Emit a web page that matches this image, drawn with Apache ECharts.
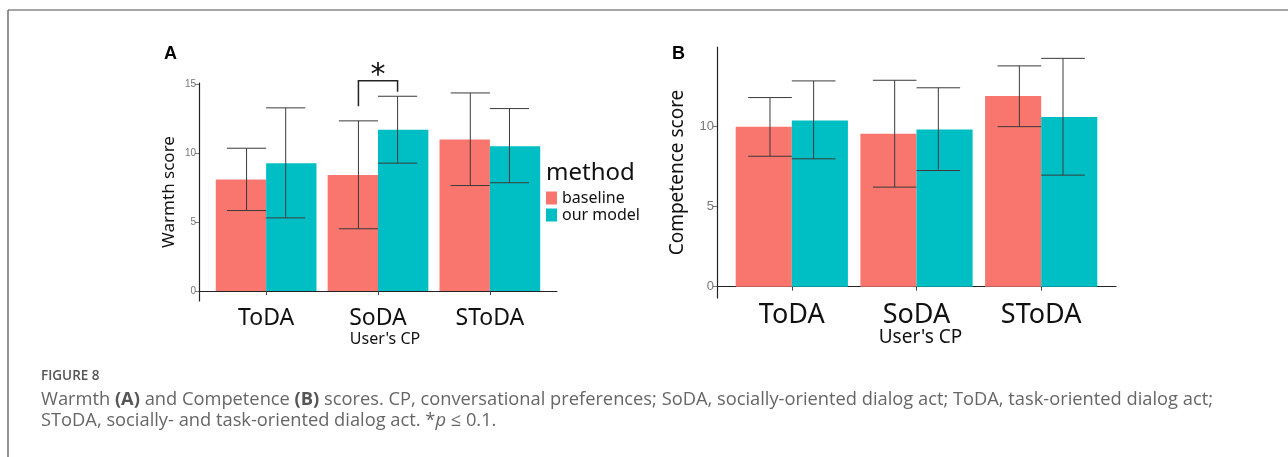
<!DOCTYPE html>
<html>
<head>
<meta charset="utf-8">
<script src="https://cdn.jsdelivr.net/npm/echarts@6/dist/echarts.min.js"></script>
<style>
  html, body { margin: 0; padding: 0; background: #fff; }
  #figure { width: 1288px; height: 457px; }
</style>
</head>
<body>
<div id="figure"></div>
<script>
// categories on the x axis
const categories = ['ToDA', 'SoDA', 'SToDA'];
const subLabel = "User's CP"; // printed under SoDA

// panel A - warmth (mean, lower and upper error bar)
const warmthBaseline = [8.08, 8.41, 10.97];
const warmthBaselineLow = [5.83, 4.51, 7.64];
const warmthBaselineHigh = [10.34, 12.32, 14.34];
const warmthOurs = [9.26, 11.67, 10.48];
const warmthOursLow = [5.30, 9.26, 7.84];
const warmthOursHigh = [13.26, 14.10, 13.21];

// panel B - competence
const competenceBaseline = [10.00, 9.55, 11.91];
const competenceBaselineLow = [8.15, 6.22, 10.00];
const competenceBaselineHigh = [11.82, 12.90, 13.80];
const competenceOurs = [10.39, 9.83, 10.60];
const competenceOursLow = [7.99, 7.26, 6.97];
const competenceOursHigh = [12.86, 12.43, 14.27];

const warmthTicks = [0, 5, 10, 15];
const competenceTicks = [0, 5, 10];

// significance bracket over SoDA in panel A: left end, top, right end
const sigBracket = [13.38, 15.23, 14.42];
const sigLabel = '*';

const methods = ['baseline', 'our model'];
const colors = ['#F8766D', '#00BFC4'];

const font = 'Noto Sans';
const barHalf = 0.225;   // dodge width 0.9 -> each bar 0.45
const errOffset = 0.175; // error bars dodged by 0.7
const capHalf = 0.175;

function barRender(offset) {
    return function (params, api) {
        const x = api.value(0) + 1 + offset;
        const p0 = api.coord([x - barHalf, api.value(1)]);
        const p1 = api.coord([x + barHalf, 0]);
        return {
            type: 'rect',
            shape: { x: p0[0], y: p0[1], width: p1[0] - p0[0], height: p1[1] - p0[1] },
            style: { fill: api.visual('color') }
        };
    };
}

function errRender(offset) {
    return function (params, api) {
        const x = api.value(0) + 1 + offset;
        const lo = api.coord([x, api.value(1)]);
        const hi = api.coord([x, api.value(2)]);
        const l = api.coord([x - capHalf, api.value(1)])[0];
        const r = api.coord([x + capHalf, api.value(1)])[0];
        const st = { stroke: '#3a3a3a', lineWidth: 1 };
        return {
            type: 'group',
            children: [
                { type: 'line', shape: { x1: lo[0], y1: lo[1], x2: hi[0], y2: hi[1] }, style: st },
                { type: 'line', shape: { x1: l, y1: lo[1], x2: r, y2: lo[1] }, style: st },
                { type: 'line', shape: { x1: l, y1: hi[1], x2: r, y2: hi[1] }, style: st }
            ]
        };
    };
}

function barSeries(name, color, values, gi, offset) {
    return {
        name: name,
        type: 'custom',
        xAxisIndex: gi,
        yAxisIndex: gi,
        itemStyle: { color: color },
        renderItem: barRender(offset),
        data: values.map((v, i) => [i, v])
    };
}

function errSeries(low, high, gi, offset) {
    return {
        name: 'err',
        type: 'custom',
        xAxisIndex: gi,
        yAxisIndex: gi,
        z: 3,
        renderItem: errRender(offset),
        data: low.map((v, i) => [i, v, high[i]])
    };
}

function xAxis(gi, big, subPad) {
    return {
        type: 'value',
        gridIndex: gi,
        min: 0.4,
        max: 3.6,
        splitLine: { show: false },
        axisLine: { lineStyle: { color: '#222', width: 1.2 } },
        axisTick: { customValues: [1, 2, 3], length: 4, lineStyle: { color: '#444' } },
        axisLabel: {
            customValues: [1, 2, 3],
            margin: big ? 2 : 4,
            formatter: function (v) {
                const c = categories[Math.round(v) - 1];
                return c === 'SoDA' ? '{a|' + c + '}\n{b|' + subLabel + '}' : '{a|' + c + '}';
            },
            rich: {
                a: { fontFamily: font, fontSize: big ? 27 : 23, lineHeight: big ? 30 : 26, color: '#111' },
                b: { fontFamily: font, fontSize: big ? 19 : 16, lineHeight: big ? 16 : 17, color: '#111', padding: [0, 0, 0, subPad] }
            }
        }
    };
}

function yAxis(gi, min, max, ticks, name, nameSize, nameGap, labelSize) {
    return {
        type: 'value',
        gridIndex: gi,
        min: min,
        max: max,
        name: name,
        nameLocation: 'middle',
        nameGap: nameGap,
        nameTextStyle: { fontFamily: font, fontSize: nameSize, color: '#111' },
        splitLine: { show: false },
        axisLine: { show: true, lineStyle: { color: '#222', width: 1.2 } },
        axisTick: { show: true, customValues: ticks, length: 4, lineStyle: { color: '#777' } },
        axisLabel: { customValues: ticks, margin: 3, fontFamily: 'Liberation Sans', fontSize: labelSize, color: '#777' }
    };
}

const chart = echarts.init(document.getElementById('figure'));

const option = {
    backgroundColor: '#fff',
    animation: false,
    grid: [
        { left: 199, top: 83, width: 358, height: 218 },
        { left: 717, top: 47, width: 399, height: 251 }
    ],
    xAxis: [xAxis(0, false, 14), xAxis(1, true, 8)],
    yAxis: [
        yAxis(0, -0.717, 15.06, warmthTicks, 'Warmth score', 17, 21, 10),
        yAxis(1, -0.71, 14.98, competenceTicks, 'Competence score', 19, 30, 13)
    ],
    legend: {
        data: methods,
        orient: 'vertical',
        left: 546,
        top: 190,
        icon: 'rect',
        itemWidth: 11,
        itemHeight: 13,
        itemGap: 1,
        padding: 0,
        textStyle: { fontFamily: font, fontSize: 16, color: '#111', lineHeight: 13 }
    },
    title: [
        { text: 'A', left: 164, top: 45, padding: 0, textStyle: { fontFamily: 'Liberation Sans', fontSize: 18, fontWeight: 'bold', color: '#000' } },
        { text: 'B', left: 672, top: 45, padding: 0, textStyle: { fontFamily: 'Liberation Sans', fontSize: 18, fontWeight: 'bold', color: '#000' } },
        { text: 'method', left: 546, top: 161, padding: 0, textStyle: { fontFamily: font, fontSize: 24, fontWeight: 'normal', color: '#111' } }
    ],
    graphic: [
        { type: 'line', shape: { x1: 8, y1: 10, x2: 1288, y2: 10 }, style: { stroke: '#4d4d4d', lineWidth: 1.2 } },
        { type: 'line', shape: { x1: 8, y1: 10, x2: 8, y2: 457 }, style: { stroke: '#4d4d4d', lineWidth: 1.2 } },
        {
            type: 'text', left: 41, top: 369,
            style: { text: 'FIGURE 8', fontFamily: 'Open Sans', fontSize: 13.5, fontWeight: 600, fill: '#555' }
        },
        {
            type: 'text', left: 41, top: 391,
            style: {
                text: 'Warmth {b|(A)} and Competence {b|(B)} scores. CP, conversational preferences; SoDA, socially-oriented dialog act; ToDA, task-oriented dialog act;',
                fontFamily: 'Open Sans', fontSize: 18.3, fill: '#666',
                rich: { b: { fontFamily: 'Open Sans', fontSize: 18.3, fontWeight: 'bold', fill: '#555' } }
            }
        },
        {
            type: 'text', left: 41, top: 412,
            style: {
                text: 'SToDA, socially- and task-oriented dialog act. *{i|p} ≤ 0.1.',
                fontFamily: 'Open Sans', fontSize: 18.3, fill: '#666',
                rich: { i: { fontFamily: 'Open Sans', fontSize: 18.3, fontStyle: 'italic', fill: '#666' } }
            }
        }
    ],
    series: [
        barSeries(methods[0], colors[0], warmthBaseline, 0, -barHalf),
        barSeries(methods[1], colors[1], warmthOurs, 0, barHalf),
        errSeries(warmthBaselineLow, warmthBaselineHigh, 0, -errOffset),
        errSeries(warmthOursLow, warmthOursHigh, 0, errOffset),
        barSeries(methods[0], colors[0], competenceBaseline, 1, -barHalf),
        barSeries(methods[1], colors[1], competenceOurs, 1, barHalf),
        errSeries(competenceBaselineLow, competenceBaselineHigh, 1, -errOffset),
        errSeries(competenceOursLow, competenceOursHigh, 1, errOffset),
        {
            name: 'sig',
            type: 'custom',
            xAxisIndex: 0,
            yAxisIndex: 0,
            clip: false,
            z: 4,
            renderItem: function (params, api) {
                const a = api.coord([2 - errOffset, api.value(0)]);
                const t1 = api.coord([2 - errOffset, api.value(1)]);
                const t2 = api.coord([2 + errOffset, api.value(1)]);
                const b = api.coord([2 + errOffset, api.value(2)]);
                const mid = api.coord([2, api.value(1)]);
                return {
                    type: 'group',
                    children: [
                        { type: 'polyline', shape: { points: [a, t1, t2, b] }, style: { stroke: '#222', lineWidth: 1.5, fill: null } },
                        { type: 'text', x: mid[0], y: mid[1] + 11, style: { text: sigLabel, fontFamily: 'DejaVu Sans', fontSize: 30, fill: '#111', align: 'center', verticalAlign: 'bottom' } }
                    ]
                };
            },
            data: [sigBracket]
        }
    ]
};

chart.setOption(option);
</script>
</body>
</html>
